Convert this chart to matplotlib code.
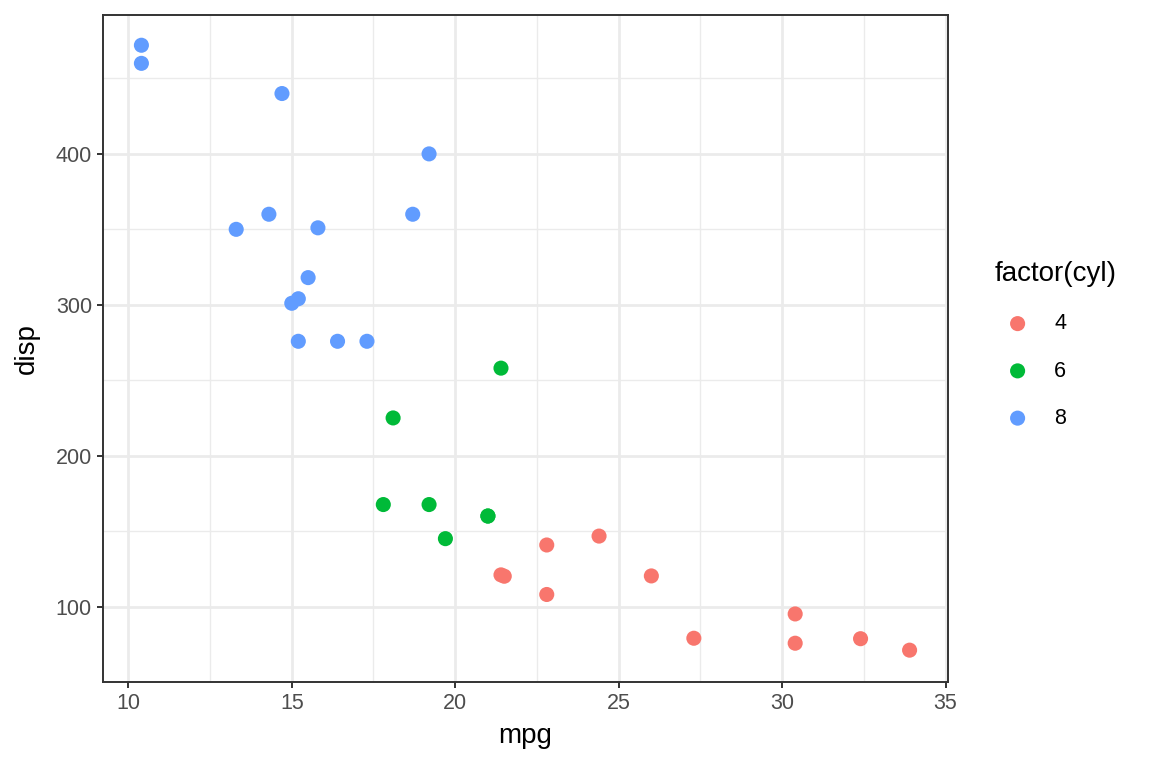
import matplotlib.pyplot as plt
import numpy as np

plt.rcParams['font.family'] = ['Liberation Sans', 'DejaVu Sans']

# mtcars: mpg, cyl, disp
mpg = [21.0, 21.0, 22.8, 21.4, 18.7, 18.1, 14.3, 24.4, 22.8, 19.2, 17.8, 16.4, 17.3, 15.2,
       10.4, 10.4, 14.7, 32.4, 30.4, 33.9, 21.5, 15.5, 15.2, 13.3, 19.2, 27.3, 26.0, 30.4,
       15.8, 19.7, 15.0, 21.4]
cyl = [6, 6, 4, 6, 8, 6, 8, 4, 4, 6, 6, 8, 8, 8, 8, 8, 8, 4, 4, 4, 4, 8, 8, 8, 8, 4, 4, 4,
       8, 6, 8, 4]
disp = [160, 160, 108, 258, 360, 225, 360, 146.7, 140.8, 167.6, 167.6, 275.8, 275.8, 275.8,
        472, 460, 440, 78.7, 75.7, 71.1, 120.1, 318, 304, 350, 400, 79, 120.3, 95.1,
        351, 145, 301, 121]
levels = [4, 6, 8]
colours = ['#F8766D', '#00BA38', '#619CFF']

mpg = np.array(mpg)
cyl = np.array(cyl)
disp = np.array(disp)

fig = plt.figure(figsize=(11.52, 7.68), dpi=100)
ax = fig.add_axes([103/1152, 86/768, 845/1152, 667/768])

for lev, col in zip(levels, colours):
    m = cyl == lev
    ax.scatter(mpg[m], disp[m], s=118, color=col, edgecolors='none', label=str(lev), zorder=3)

# ggplot style 5% expansion
xr = mpg.max() - mpg.min()
yr = disp.max() - disp.min()
ax.set_xlim(mpg.min() - 0.05 * xr, mpg.max() + 0.05 * xr)
ax.set_ylim(disp.min() - 0.05 * yr, disp.max() + 0.05 * yr)

ax.set_xticks([10, 15, 20, 25, 30, 35])
ax.set_yticks([100, 200, 300, 400])
ax.set_xticks([12.5, 17.5, 22.5, 27.5, 32.5], minor=True)
ax.set_yticks([50, 150, 250, 350, 450], minor=True)
ax.grid(which='major', color='#EBEBEB', linewidth=2.0, zorder=0)
ax.grid(which='minor', color='#EBEBEB', linewidth=1.0, zorder=0)
ax.set_axisbelow(True)

for sp in ax.spines.values():
    sp.set_color('#333333')
    sp.set_linewidth(1.4)

ax.tick_params(which='major', length=4.5, width=1.4, color='#333333', labelcolor='#4D4D4D',
               labelsize=15.5, pad=3.5)
ax.tick_params(which='minor', length=0)

ax.set_xlabel('mpg', fontsize=20, color='black', labelpad=6.5)
ax.set_ylabel('disp', fontsize=20, color='black', labelpad=11)

leg = fig.legend(loc='upper left', bbox_to_anchor=(995/1152, 1 - 261/768),
                 title='factor(cyl)', frameon=False, fontsize=15.5,
                 title_fontsize=20, labelspacing=1.22, handletextpad=0.65,
                 handlelength=2.1, borderaxespad=0, borderpad=0, markerscale=1.0)
leg._legend_box.align = 'left'

fig.savefig('out.png', dpi=100)
